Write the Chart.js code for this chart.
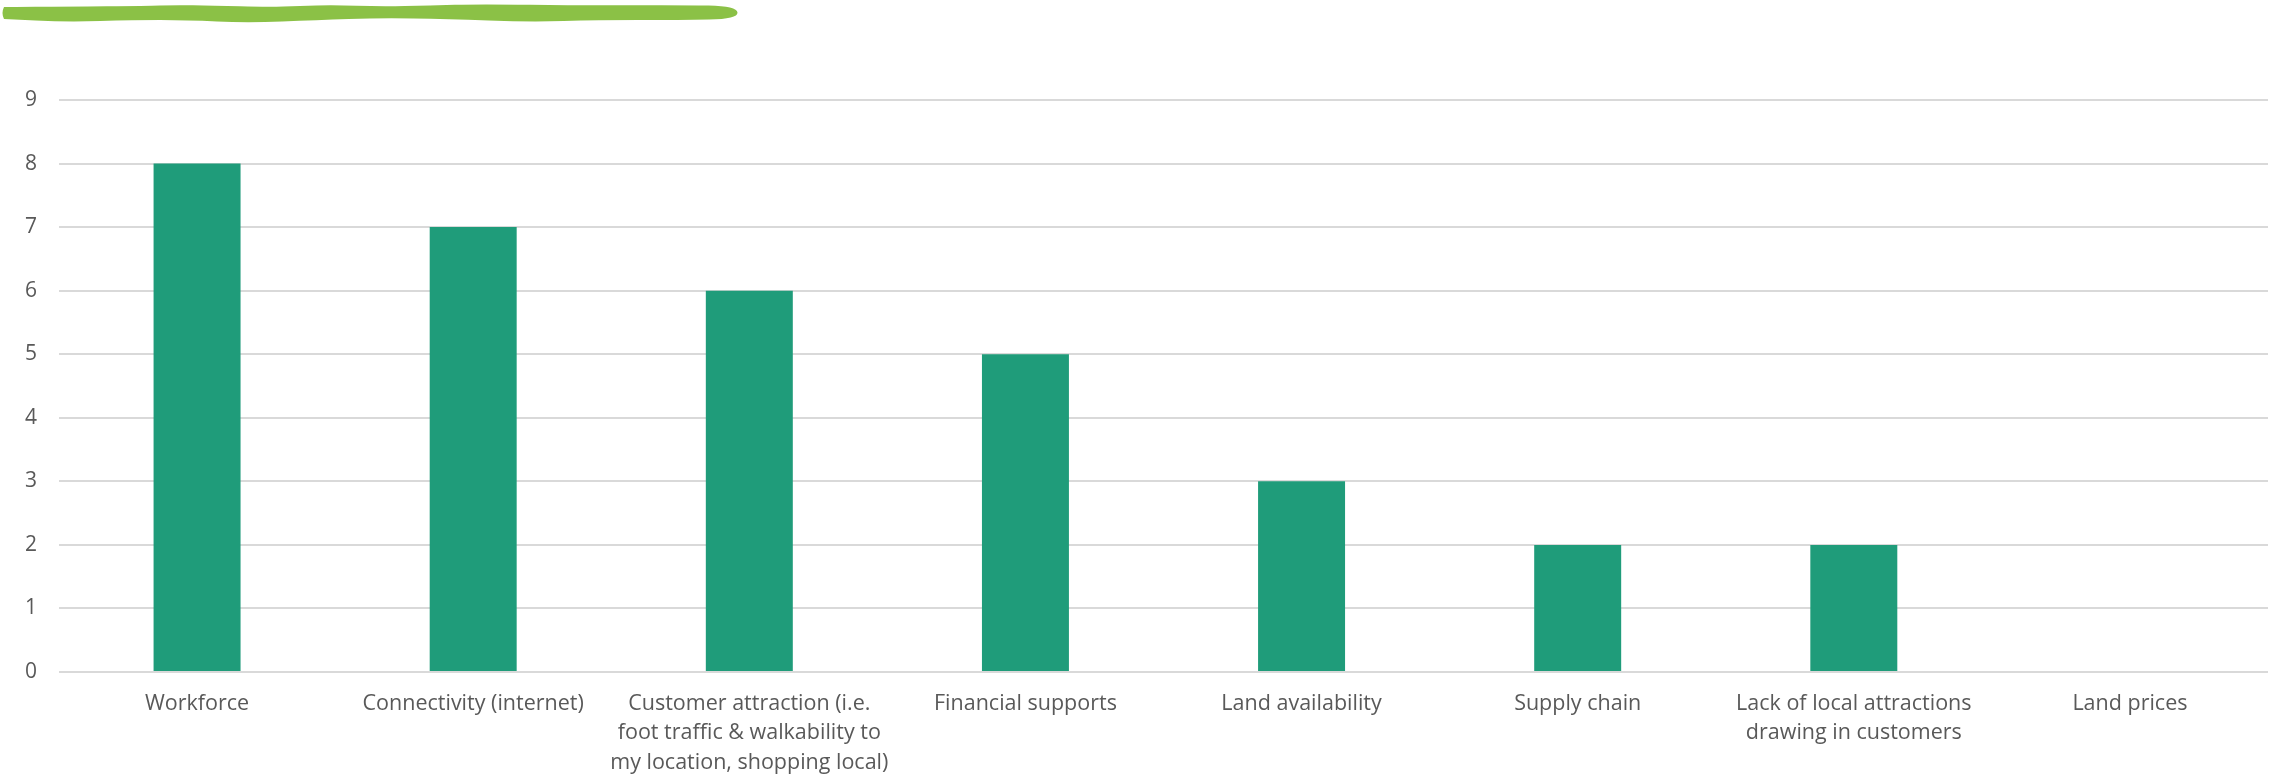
<!DOCTYPE html>
<html>
<head>
<meta charset="utf-8">
<script src="https://cdn.jsdelivr.net/npm/chart.js@4/dist/chart.umd.min.js"></script>
<style>
html,body{margin:0;padding:0;background:#fff;}
#wrap{width:2280px;height:775px;position:relative;}
</style>
</head>
<body>
<div id="wrap"><canvas id="c" width="2280" height="775"></canvas></div>
<script>
const categories = [
  "Workforce",
  "Connectivity (internet)",
  ["Customer attraction (i.e.", "foot traffic & walkability to", "my location, shopping local)"],
  "Financial supports",
  "Land availability",
  "Supply chain",
  ["Lack of local attractions", "drawing in customers"],
  "Land prices"
];
const values = [8, 7, 6, 5, 3, 2, 2, 0];
const yMin = 0;
const yMax = 9;
const yStep = 1;

const squiggle = {
  id: 'squiggle',
  beforeDraw(chart) {
    const ctx = chart.ctx;
    const top = [[4,7],[67,6.5],[147,6],[173,5],[213,5.5],[267,7],[300,6],[333,5],[380,6.5],[430,5.5],[480,4],[580,5.5],[680,5],[737,6]];
    const bot = [[738,19],[680,20],[597,20],[530,22],[447,19],[380,18],[317,20],[247,23],[187,20],[133,20],[67,22],[4,19]];
    ctx.save();
    ctx.fillStyle = '#8BC146';
    ctx.beginPath();
    const pts = top.concat(bot);
    ctx.moveTo(pts[0][0], pts[0][1]);
    for (let i = 1; i < pts.length; i++) {
      const p0 = pts[i-1], p1 = pts[i];
      const mx = (p0[0]+p1[0])/2, my = (p0[1]+p1[1])/2;
      ctx.quadraticCurveTo(p0[0], p0[1], mx, my);
    }
    ctx.lineTo(pts[pts.length-1][0], pts[pts.length-1][1]);
    ctx.quadraticCurveTo(1, 13, 4, 7);
    ctx.closePath();
    ctx.fill();
    ctx.restore();
  }
};

new Chart(document.getElementById('c'), {
  type: 'bar',
  data: {
    labels: categories,
    datasets: [{
      data: values,
      backgroundColor: '#1F9C7A',
      borderWidth: 0,
      categoryPercentage: 1,
      barPercentage: 0.315
    }]
  },
  options: {
    responsive: false,
    animation: false,
    devicePixelRatio: 1,
    layout: { padding: { left: 0, right: 12, top: 100, bottom: 0 } },
    plugins: { legend: { display: false }, tooltip: { enabled: false } },
    scales: {
      x: {
        grid: { display: false, drawTicks: false },
        border: { display: false },
        ticks: {
          color: '#595959',
          font: { family: 'Open Sans', size: 21.5, lineHeight: 1.37 },
          maxRotation: 0,
          autoSkip: false,
          padding: 17
        },
        afterFit(s) { s.height = 103; }
      },
      y: {
        min: yMin, max: yMax,
        grid: { color: '#D9D9D9', lineWidth: 2, drawTicks: false },
        border: { display: false },
        ticks: {
          stepSize: yStep,
          color: '#595959',
          font: { family: 'Open Sans', size: 21 },
          padding: 22
        },
        afterFit(s) { s.width = 59; }
      }
    }
  },
  plugins: [squiggle]
});
</script>
</body>
</html>
